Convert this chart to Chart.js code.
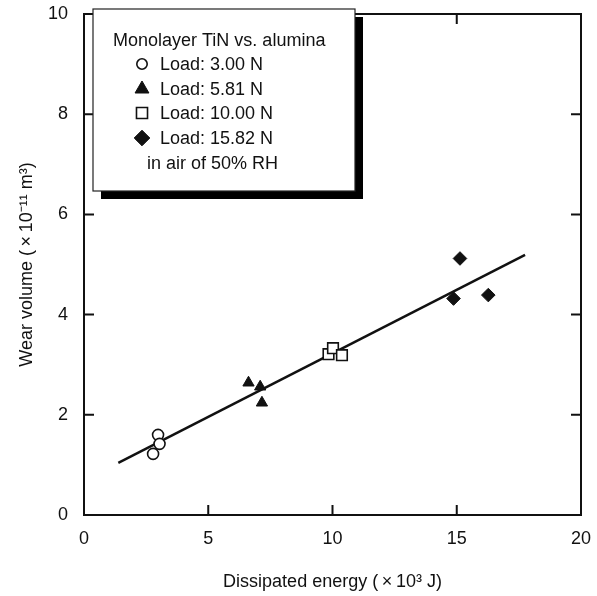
<!DOCTYPE html>
<html><head><meta charset="utf-8">
<script src="https://cdn.jsdelivr.net/npm/chart.js@4/dist/chart.umd.min.js"></script>
<style>html,body{margin:0;padding:0;background:#fff}#wrap{width:597px;height:596px;position:relative}</style>
</head><body><div id="wrap"><canvas id="c" width="597" height="596"></canvas></div>
<script>
const xTicks = [0, 5, 10, 15, 20];
const yTicks = [0, 2, 4, 6, 8, 10];
const load300X = [2.98, 3.04, 2.78];
const load300Y = [1.60, 1.42, 1.22];
const load581X = [6.62, 7.09, 7.16];
const load581Y = [2.64, 2.56, 2.24];
const load1000X = [9.84, 10.02, 10.38];
const load1000Y = [3.21, 3.33, 3.19];
const load1582X = [14.87, 15.13, 16.27];
const load1582Y = [4.32, 5.12, 4.39];
const fitX = [1.38, 17.75];
const fitY = [1.04, 5.19];
const legendTitle = 'Monolayer TiN vs. alumina';
const seriesLabels = ['Load: 3.00 N', 'Load: 5.81 N', 'Load: 10.00 N', 'Load: 15.82 N'];
const legendNote = 'in air of 50% RH';
const xTitle = 'Dissipated energy (\u2009\u00D7\u200910\u00B3 J)';
const yTitle = 'Wear volume (\u2009\u00D7\u200910\u207B\u00B9\u00B9 m\u00B3)';

const FONT = '"Liberation Sans", Arial, sans-serif';
const FS = 18;
const INK = '#111';
function pts(xs, ys) { return xs.map((x, i) => ({x: x, y: ys[i]})); }

const markerStyles = [
  {pointStyle: 'circle', radius: 5.5, legendRadius: 5.2, fill: '#fff', width: 1.6},
  {pointStyle: 'triangle', radius: 6.5, legendRadius: 8, fill: INK, width: 1},
  {pointStyle: 'rect', radius: 7.5, legendRadius: 7.8, fill: '#fff', width: 1.6},
  {pointStyle: 'rectRot', radius: 6.8, legendRadius: 7.8, fill: INK, width: 1}
];
const seriesData = [pts(load300X, load300Y), pts(load581X, load581Y), pts(load1000X, load1000Y), pts(load1582X, load1582Y)];

const datasets = seriesData.map((d, i) => ({
  type: 'scatter', label: seriesLabels[i], data: d,
  pointStyle: markerStyles[i].pointStyle, pointRadius: markerStyles[i].radius,
  pointHoverRadius: markerStyles[i].radius,
  backgroundColor: markerStyles[i].fill, borderColor: INK, borderWidth: markerStyles[i].width,
  order: 1
}));
datasets.push({
  type: 'line', label: 'fit', data: pts(fitX, fitY), borderColor: INK, borderWidth: 2.5,
  pointRadius: 0, fill: false, tension: 0, order: 2
});

const framePlugin = {
  id: 'frame',
  afterDraw(chart) {
    const ctx = chart.ctx, a = chart.chartArea;
    const xs = chart.scales.x, ys = chart.scales.y;
    ctx.save();
    ctx.strokeStyle = INK; ctx.lineWidth = 2;
    ctx.strokeRect(a.left, a.top, a.right - a.left, a.bottom - a.top);
    const L = 10;
    ctx.beginPath();
    xTicks.slice(1, -1).forEach(v => {
      const p = xs.getPixelForValue(v);
      ctx.moveTo(p, a.bottom); ctx.lineTo(p, a.bottom - L);
      ctx.moveTo(p, a.top); ctx.lineTo(p, a.top + L);
    });
    yTicks.slice(1, -1).forEach(v => {
      const p = ys.getPixelForValue(v);
      ctx.moveTo(a.left, p); ctx.lineTo(a.left + L, p);
      ctx.moveTo(a.right, p); ctx.lineTo(a.right - L, p);
    });
    ctx.stroke();

    // legend box with shadow
    const bx = 93, by = 9, bw = 262, bh = 182, sh = 8;
    ctx.fillStyle = '#000';
    ctx.fillRect(bx + sh, by + sh, bw, bh);
    ctx.fillStyle = '#fff';
    ctx.fillRect(bx, by, bw, bh);
    ctx.lineWidth = 1.2; ctx.strokeStyle = '#222';
    ctx.strokeRect(bx, by, bw, bh);

    ctx.fillStyle = INK;
    ctx.font = FS + 'px ' + FONT;
    ctx.textBaseline = 'middle';
    ctx.textAlign = 'left';
    ctx.fillText(legendTitle, 113, 41);
    const rowY = [64, 89, 113, 138];
    seriesLabels.forEach((lab, i) => {
      const m = markerStyles[i];
      ctx.save();
      ctx.fillStyle = m.fill; ctx.strokeStyle = INK; ctx.lineWidth = m.width;
      Chart.helpers.drawPoint(ctx, {pointStyle: m.pointStyle, radius: m.legendRadius, borderWidth: m.width}, 142, rowY[i]);
      ctx.restore();
      ctx.fillStyle = INK;
      ctx.fillText(lab, 160, rowY[i] + 1);
    });
    ctx.fillText(legendNote, 147, 164);
    ctx.restore();
  }
};

new Chart(document.getElementById('c'), {
  type: 'scatter',
  data: {datasets: datasets},
  options: {
    responsive: false, animation: false, devicePixelRatio: 1,
    layout: {padding: {top: 14, right: 16, left: 0, bottom: 0}},
    plugins: {legend: {display: false}, tooltip: {enabled: false}},
    scales: {
      x: {
        type: 'linear', min: 0, max: 20,
        afterBuildTicks: s => { s.ticks = xTicks.map(v => ({value: v})); },
        ticks: {color: INK, font: {family: FONT, size: FS}, padding: 13, maxRotation: 0},
        grid: {display: false, drawTicks: false},
        border: {display: false},
        title: {display: true, text: xTitle, color: INK, font: {family: FONT, size: FS}, padding: {top: 4, bottom: 3}},
        afterFit: s => { s.height = 81; s.paddingLeft = 0; s.paddingRight = 0; }
      },
      y: {
        type: 'linear', min: 0, max: 10,
        afterBuildTicks: s => { s.ticks = yTicks.map(v => ({value: v})); },
        ticks: {color: INK, font: {family: FONT, size: FS}, padding: 16},
        grid: {display: false, drawTicks: false},
        border: {display: false},
        title: {display: true, text: yTitle, color: INK, font: {family: FONT, size: FS}, padding: {top: 16, bottom: 0}},
        afterFit: s => { s.width = 84; s.paddingTop = 0; s.paddingBottom = 0; }
      }
    }
  },
  plugins: [framePlugin]
});
</script>
</body></html>
